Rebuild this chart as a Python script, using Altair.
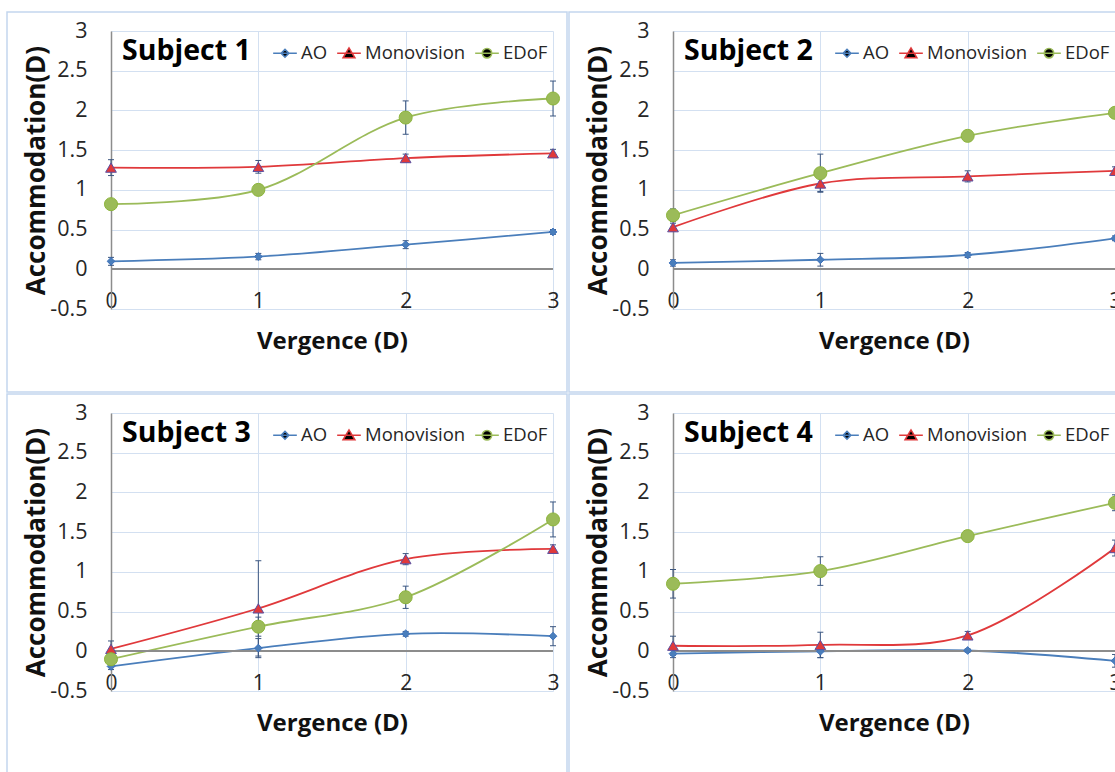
import altair as alt
import pandas as pd

VERGENCE = [0, 1, 2, 3]
SERIES = ["AO", "Monovision", "EDoF"]
SUBJECTS = ["Subject 1", "Subject 2", "Subject 3", "Subject 4"]

# mean accommodation (D) per subject and series
s1_ao = [0.10, 0.16, 0.31, 0.47]
s1_mono = [1.28, 1.29, 1.40, 1.46]
s1_edof = [0.82, 1.00, 1.91, 2.15]
s2_ao = [0.08, 0.12, 0.18, 0.39]
s2_mono = [0.53, 1.08, 1.17, 1.24]
s2_edof = [0.68, 1.21, 1.68, 1.97]
s3_ao = [-0.19, 0.04, 0.22, 0.19]
s3_mono = [0.03, 0.54, 1.16, 1.29]
s3_edof = [-0.10, 0.31, 0.68, 1.66]
s4_ao = [-0.03, 0.00, 0.01, -0.12]
s4_mono = [0.07, 0.08, 0.20, 1.30]
s4_edof = [0.85, 1.01, 1.45, 1.87]

# error bar half-lengths
s1_ao_err = [0.05, 0.04, 0.05, 0.03]
s1_mono_err = [0.10, 0.08, 0.05, 0.05]
s1_edof_err = [0.04, 0.04, 0.21, 0.22]
s2_ao_err = [0.04, 0.08, 0.03, 0.03]
s2_mono_err = [0.05, 0.10, 0.07, 0.05]
s2_edof_err = [0.08, 0.24, 0.04, 0.04]
s3_ao_err = [0.04, 0.12, 0.03, 0.12]
s3_mono_err = [0.10, 0.60, 0.07, 0.05]
s3_edof_err = [0.05, 0.12, 0.14, 0.22]
s4_ao_err = [0.05, 0.08, 0.02, 0.08]
s4_mono_err = [0.12, 0.16, 0.05, 0.10]
s4_edof_err = [0.18, 0.18, 0.04, 0.10]

Y_TICKS = [-0.5, 0, 0.5, 1, 1.5, 2, 2.5, 3]

means = [
    [s1_ao, s1_mono, s1_edof],
    [s2_ao, s2_mono, s2_edof],
    [s3_ao, s3_mono, s3_edof],
    [s4_ao, s4_mono, s4_edof],
]
errs = [
    [s1_ao_err, s1_mono_err, s1_edof_err],
    [s2_ao_err, s2_mono_err, s2_edof_err],
    [s3_ao_err, s3_mono_err, s3_edof_err],
    [s4_ao_err, s4_mono_err, s4_edof_err],
]

LINE_COLORS = ["#4a7ebb", "#e0393b", "#9bbb59"]
FILL_COLORS = ["#3d72bd", "#c8102e", "#8db53c"]
STROKE_COLORS = ["#3d72bd", "#5b4fa0", "#8db53c"]
POINT_SHAPES = ["diamond", "triangle-up", "circle"]
POINT_SIZES = [60, 170, 200]
LEGEND_SHAPES = [
    "M-1,0H1M-0.33,0L0,-0.33L0.33,0L0,0.33Z",
    "M-1,0H1M-0.5,0.38L0,-0.45L0.5,0.38Z",
    "M-1,0H1M-0.4,0A0.4,0.4,0,1,1,0.4,0A0.4,0.4,0,1,1,-0.4,0Z",
]

FONT = "Open Sans"
GRID = "#d3e0f1"
FRAME = "#c3d6ee"
ERR = "#3b5680"

PW, PH = 442, 278


def panel(idx):
    rows = []
    for s, name in enumerate(SERIES):
        for k, v in enumerate(VERGENCE):
            m = means[idx][s][k]
            e = errs[idx][s][k]
            rows.append({"series": name, "vergence": v, "value": m,
                         "lo": m - e, "hi": m + e})
    df = pd.DataFrame(rows)

    xs = alt.Scale(domain=[0, 3], nice=False)
    ys = alt.Scale(domain=[-0.5, 3], nice=False, zero=False)

    x_enc = alt.X(
        "vergence:Q", scale=xs,
        axis=alt.Axis(
            values=VERGENCE, grid=True, gridColor=GRID, gridWidth=1,
            domain=False, ticks=False, labelFont=FONT, labelFontSize=21,
            labelColor="#262626", labelBaseline="middle", labelPadding=-8,
            labelFlush=False, labelOverlap=False,
            labelExpr="'' + datum.value",
            title="Vergence (D)", titleFont=FONT, titleFontSize=24,
            titleFontWeight="bold", titleColor="#111111",
            titleY=32, titleBaseline="middle",
        ),
    )
    y_enc = alt.Y(
        "value:Q", scale=ys,
        axis=alt.Axis(
            values=Y_TICKS, grid=True, gridColor=GRID, gridWidth=1,
            domain=True, domainColor="#8c8c8c", domainWidth=1.5,
            ticks=False, labelFont=FONT, labelFontSize=21.5,
            labelColor="#262626", labelPadding=24,
            labelOverlap=False, labelFlush=False, labelBound=False,
            labelExpr="'' + datum.value",
            title="Accommodation(D)", titleFont=FONT, titleFontSize=26,
            titleFontWeight="bold", titleColor="#111111",
            titleAngle=270, titleX=-75, titleY=PH / 2,
            titleAlign="center", titleBaseline="middle",
        ),
    )
    xn = alt.X("vergence:Q", scale=xs, axis=None)
    color = alt.Color("series:N", scale=alt.Scale(domain=SERIES, range=LINE_COLORS),
                      legend=None)

    base = alt.Chart(df)

    frame = alt.Chart(pd.DataFrame({"f": [0]})).mark_rect(
        fill="transparent", stroke=FRAME, strokeWidth=1.5
    ).encode(x=alt.value(-104), x2=alt.value(456), y=alt.value(-19), y2=alt.value(361))

    lines = base.mark_line(interpolate="catmull-rom", strokeWidth=1.8).encode(
        x=x_enc, y=y_enc, color=color, detail="series:N"
    )
    zero = base.mark_rule(color="#8c8c8c", strokeWidth=1.5).encode(
        y=alt.YDatum(0, scale=ys, axis=None)
    )
    bars = base.mark_rule(color=ERR, strokeWidth=1).encode(
        x=xn, y=alt.Y("lo:Q", scale=ys, axis=None), y2="hi:Q"
    )
    cap_lo = base.mark_tick(orient="horizontal", size=6, thickness=1, color=ERR,
                            opacity=1).encode(x=xn, y=alt.Y("lo:Q", scale=ys, axis=None))
    cap_hi = base.mark_tick(orient="horizontal", size=6, thickness=1, color=ERR,
                            opacity=1).encode(x=xn, y=alt.Y("hi:Q", scale=ys, axis=None))
    points = base.mark_point(filled=True, opacity=1, strokeWidth=1).encode(
        x=xn, y=alt.Y("value:Q", scale=ys, axis=None),
        color=alt.Color("series:N", scale=alt.Scale(domain=SERIES, range=FILL_COLORS),
                        legend=None),
        stroke=alt.Stroke("series:N", scale=alt.Scale(domain=SERIES, range=STROKE_COLORS),
                          legend=None),
        shape=alt.Shape("series:N", scale=alt.Scale(domain=SERIES, range=POINT_SHAPES),
                        legend=None),
        size=alt.Size("series:N", scale=alt.Scale(domain=SERIES, range=POINT_SIZES),
                      legend=None),
    )

    leg = alt.Legend(
        title=SUBJECTS[idx], orient="none", legendX=11, legendY=9,
        direction="horizontal", titleOrient="left", titleFont=FONT,
        titleFontSize=28.5, titleFontWeight="bold", titleColor="#000000",
        titleAnchor="middle", titleBaseline="middle", titlePadding=21,
        labelFont=FONT, labelFontSize=18.5, labelColor="#262626",
        symbolSize=560, symbolStrokeWidth=1.5, labelOffset=3,
        columnPadding=6, padding=0,
    )
    legend_layer = base.transform_filter("false").mark_point(
        filled=True, opacity=1, strokeWidth=1.5
    ).encode(
        x=xn, y=alt.Y("value:Q", scale=ys, axis=None),
        fill=alt.Fill("series:N", scale=alt.Scale(domain=SERIES, range=FILL_COLORS),
                      legend=leg),
        stroke=alt.Stroke("series:N", scale=alt.Scale(domain=SERIES, range=LINE_COLORS),
                          legend=leg),
        shape=alt.Shape("series:N", scale=alt.Scale(domain=SERIES, range=LEGEND_SHAPES),
                        legend=leg),
    )

    return alt.layer(frame, lines, zero, bars, cap_lo, cap_hi, points, legend_layer).resolve_scale(
        shape="independent", stroke="independent"
    ).resolve_axis(x="independent", y="independent").properties(width=PW, height=PH)


row1 = alt.hconcat(panel(0), panel(1), spacing=0)
row2 = alt.hconcat(panel(2), panel(3), spacing=0)
chart = alt.vconcat(row1, row2, spacing=0).properties(
    autosize=alt.AutoSizeParams(type="none"),
    padding={"left": 111, "top": 31, "right": 1004, "bottom": 741},
    background="white",
).configure_view(stroke=None).configure_axis(
    labelOverlap=False, labelFlush=False
)

chart.save("out.html", embed_options={"renderer": "svg", "actions": False})
